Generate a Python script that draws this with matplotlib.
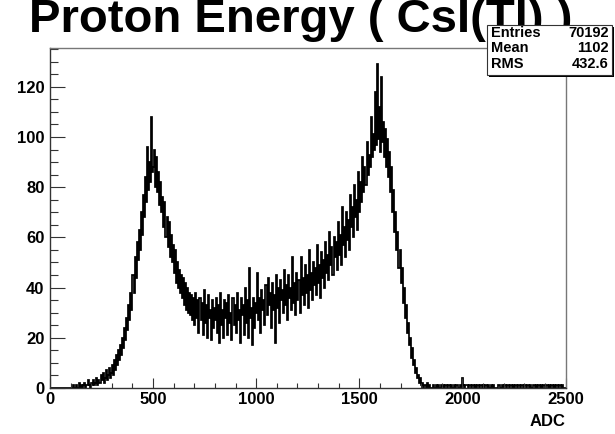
import matplotlib.pyplot as plt
import numpy as np
from matplotlib.patches import Rectangle
from matplotlib.ticker import MultipleLocator

plt.rcParams['font.family'] = ['Liberation Sans', 'DejaVu Sans']
plt.rcParams['font.weight'] = 'bold'

# ADC spectrum, 5-channel bins from 0 to 2500 (counts per channel)
bin_width = 5
adc_min, adc_max = 0, 2500

below = [0] * 20  # 0 - 95

rise = [  # 100 - 445
    0, 0, 1, 0, 0, 1, 0, 0, 2, 0,
    1, 0, 1, 2, 0, 1, 1, 3, 1, 0,
    2, 1, 3, 1, 2, 4, 1, 3, 2, 5,
    3, 6, 2, 4, 7, 3, 5, 8, 4, 6,
    9, 5, 11, 7, 13, 9, 15, 11, 17, 13,
    20, 16, 24, 19, 28, 23, 33, 27, 38, 31,
    45, 38, 52, 44, 58, 51, 63, 55, 70, 61,
]

low_peak = [  # 450 - 695
    77, 68, 84, 74, 96, 79, 90, 82, 108, 86,
    88, 95, 80, 92, 78, 86, 73, 82, 70, 76,
    64, 74, 60, 68, 56, 66, 52, 61, 50, 57,
    46, 55, 42, 50, 40, 47, 38, 45, 36, 44,
    33, 42, 31, 40, 30, 38, 29, 37, 27, 36,
]

valley = [  # 700 - 1295
    25, 38, 28, 35, 22, 36, 27, 34, 21, 39,
    26, 33, 20, 37, 28, 31, 19, 35, 24, 32,
    27, 36, 22, 33, 18, 38, 25, 31, 20, 35,
    28, 34, 21, 37, 26, 30, 19, 36, 25, 33,
    22, 38, 27, 31, 18, 36, 29, 33, 21, 40,
    26, 35, 20, 48, 28, 32, 17, 36, 24, 34,
    30, 46, 27, 36, 22, 39, 31, 35, 25, 41,
    29, 44, 33, 38, 24, 42, 31, 37, 18, 45,
    32, 40, 26, 43, 35, 39, 30, 47, 33, 41,
    27, 45, 36, 40, 31, 52, 34, 42, 29, 46,
    35, 43, 30, 52, 37, 44, 33, 49, 38, 45,
    32, 55, 39, 46, 35, 50, 41, 48, 37, 57,
]

high_peak = [  # 1300 - 1695
    42, 49, 36, 54, 44, 51, 40, 58, 46, 53,
    43, 62, 49, 56, 45, 60, 52, 58, 47, 66,
    53, 61, 49, 72, 57, 64, 52, 70, 59, 67,
    55, 77, 64, 72, 60, 81, 68, 75, 63, 86,
    70, 82, 74, 92, 78, 88, 81, 98, 85, 93,
    88, 108, 92, 101, 95, 118, 97, 129, 99, 112,
    94, 124, 98, 106, 92, 103, 88, 99, 84, 94,
    78, 88, 70, 79, 62, 70, 55, 62, 48, 55,
]

fall = [  # 1700 - 1895
    42, 48, 34, 40, 28, 33, 22, 26, 17, 20,
    12, 16, 9, 11, 6, 8, 4, 5, 2, 4,
    1, 2, 0, 1, 1, 0, 2, 0, 1, 0,
    0, 1, 0, 0, 1, 0, 1, 0, 0, 1,
]

tail = [  # 1900 - 2495
    0, 1, 0, 1, 1, 0, 1, 1, 0, 1, 0, 0, 1, 0, 1, 1, 0, 0, 1, 0,
    4, 1, 0, 1, 1, 0, 1, 1, 0, 1, 1, 0, 1, 0, 1, 1, 0, 1, 1, 0,
    1, 0, 1, 1, 0, 1, 0, 0, 1, 0, 1, 0, 0, 0, 0, 1, 0, 0, 1, 0,
    1, 1, 0, 1, 1, 0, 1, 1, 0, 1, 0, 1, 1, 0, 1, 1, 0, 1, 1, 0,
    1, 1, 0, 1, 1, 0, 1, 0, 1, 1, 0, 1, 0, 1, 1, 0, 1, 0, 1, 1,
    0, 1, 1, 0, 1, 0, 1, 1, 0, 1, 0, 1, 1, 0, 1, 1, 0, 1, 0, 0,
]

stat_names = ['Entries', 'Mean', 'RMS']
stat_values = ['70192', '1102', '432.6']

counts = np.array(below + rise + low_peak + valley + high_peak + fall + tail, dtype=float)
edges = np.arange(adc_min, adc_max + bin_width, bin_width)

W, H = 615, 434
fig = plt.figure(figsize=(W / 100, H / 100), dpi=100)
fig.patch.set_facecolor('white')

# frame in pixel units
fx0, fx1, fy0, fy1 = 50, 565.5, 48, 388
ax = fig.add_axes([fx0 / W, 1 - fy1 / H, (fx1 - fx0) / W, (fy1 - fy0) / H])

ax.stairs(counts, edges, color='black', lw=1.25, baseline=None)

ax.set_xlim(adc_min, adc_max)
ax.set_ylim(0, 1.05 * counts.max())
ax.xaxis.set_major_locator(MultipleLocator(500))
ax.xaxis.set_minor_locator(MultipleLocator(100))
ax.yaxis.set_major_locator(MultipleLocator(20))
ax.yaxis.set_minor_locator(MultipleLocator(5))
ax.tick_params(which='both', direction='in', top=False, right=False,
               color='#333333', width=0.8, labelsize=12)
ax.tick_params(axis='x', which='major', length=7, pad=3)
ax.tick_params(axis='x', which='minor', length=3.5)
ax.tick_params(axis='y', which='major', length=11, pad=4)
ax.tick_params(axis='y', which='minor', length=5.5)
for lab in ax.get_xticklabels() + ax.get_yticklabels():
    lab.set_fontweight('bold')

for side in ('left', 'bottom'):
    ax.spines[side].set_color('#333333')
    ax.spines[side].set_linewidth(1.0)
for side in ('top', 'right'):
    ax.spines[side].set_color('#777777')
    ax.spines[side].set_linewidth(1.0)

ax.set_xlabel('ADC', loc='right', fontsize=12, fontweight='bold', labelpad=5)

# title, its top running off the canvas
fig.text(29 / W, 1 - 32 / H, 'Proton Energy ( CsI(Tl) )', fontsize=34,
         fontweight='bold', ha='left', va='baseline')

# statistics box with drop shadow, drawn over the title
bx0, bx1, by0, by1 = 487, 612, 25, 75
fig.add_artist(Rectangle((bx0 / W + 2 / W, 1 - by1 / H - 2 / H), (bx1 - bx0) / W, (by1 - by0) / H,
                         transform=fig.transFigure, facecolor='black', edgecolor='black',
                         lw=0, zorder=5))
fig.add_artist(Rectangle((bx0 / W, 1 - by1 / H), (bx1 - bx0) / W, (by1 - by0) / H,
                         transform=fig.transFigure, facecolor='white', edgecolor='#333333',
                         lw=0.8, zorder=6))
row_y = [33, 48, 64]
for name, val, yy in zip(stat_names, stat_values, row_y):
    fig.text(491 / W, 1 - yy / H, name, fontsize=10.5, fontweight='bold',
             ha='left', va='center', zorder=7)
    fig.text(609 / W, 1 - yy / H, val, fontsize=10.5, fontweight='bold',
             ha='right', va='center', zorder=7)

fig.savefig('out.png', dpi=100)
